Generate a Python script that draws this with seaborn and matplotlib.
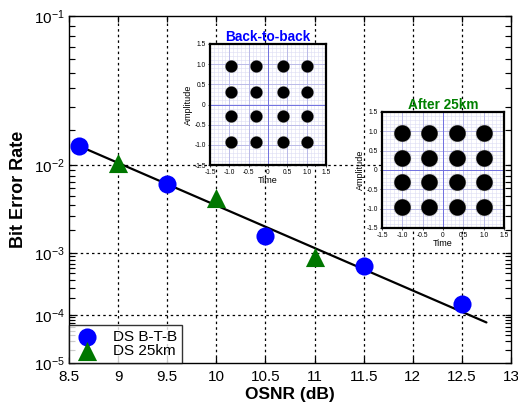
import numpy as np
import pandas as pd
import matplotlib
matplotlib.use("Agg")
import matplotlib.pyplot as plt
import seaborn as sns
from matplotlib.ticker import FixedLocator, FuncFormatter, NullFormatter
from matplotlib.transforms import blended_transform_factory

# ---------------- data ----------------
btb_osnr = [8.6, 9.5, 10.5, 11.5, 12.5]
btb_ber = [1.5e-2, 6.6e-3, 1.67e-3, 6.4e-4, 1.6e-4]
km25_osnr = [9.0, 10.0, 11.0]
km25_ber = [1.05e-2, 4.7e-3, 8.7e-4]
fit_osnr = [8.65, 12.75]
fit_ber = [1.43e-2, 7.2e-5]

x_ticks = [8.5, 9, 9.5, 10, 10.5, 11, 11.5, 12, 12.5, 13]
y_ticks = [1e-5, 1e-4, 1e-3, 1e-2, 1e-1]

# constellation cluster centres (I / Q levels)
b2b_levels_i = [-0.95, -0.3, 0.38, 1.0]
b2b_levels_q = [0.95, 0.32, -0.28, -0.92]
k25_levels_i = [-1.0, -0.35, 0.35, 1.0]
k25_levels_q = [0.95, 0.3, -0.3, -0.95]
inset_ticks = [-1.5, -1.0, -0.5, 0, 0.5, 1.0, 1.5]
inset_tick_labels = ["-1.5", "-1.0", "-0.5", "0", "0.5", "1.0", "1.5"]

# ---------------- style ----------------
sns.set_style("ticks")
plt.rcParams["font.family"] = ["Liberation Sans", "DejaVu Sans"]
plt.rcParams["mathtext.fontset"] = "custom"
plt.rcParams["mathtext.rm"] = "Liberation Sans"
plt.rcParams["mathtext.it"] = "Liberation Sans:italic"
plt.rcParams["text.color"] = "black"
plt.rcParams["axes.labelcolor"] = "black"
plt.rcParams["xtick.color"] = "black"
plt.rcParams["ytick.color"] = "black"

fig = plt.figure(figsize=(5.18, 4.08), dpi=100)
ax = fig.add_axes([69/518, 1-363/408, 442/518, 347/408])


def fwd(x):
    x = np.clip(np.asarray(x, dtype=float), 1e-300, 0.9999999)
    return -np.log10(-np.log10(x))


def inv(y):
    return 10 ** (-10 ** (-np.asarray(y, dtype=float)))


ax.set_yscale("function", functions=(fwd, inv))

df_btb = pd.DataFrame({"OSNR": btb_osnr, "BER": btb_ber})
df_25 = pd.DataFrame({"OSNR": km25_osnr, "BER": km25_ber})

# grid
for xv in x_ticks[1:-1]:
    ax.axvline(xv, color="black", lw=0.9, ls=(0, (2, 2.5)), zorder=0)
for yv in y_ticks[1:-1]:
    ax.axhline(yv, color="black", lw=0.9, ls=(0, (2, 2.5)), zorder=0)

# fit line (straight in this scale -> draw densely)
xs = np.linspace(fit_osnr[0], fit_osnr[1], 50)
ys = inv(np.interp(xs, fit_osnr, fwd(fit_ber)))
sns.lineplot(x=xs, y=ys, ax=ax, color="black", lw=1.6, zorder=2)

sns.scatterplot(data=df_btb, x="OSNR", y="BER", ax=ax, marker="o", s=170,
                color="#0000ff", edgecolor="#0000ff", linewidth=0, zorder=3,
                label="DS B-T-B")
sns.scatterplot(data=df_25, x="OSNR", y="BER", ax=ax, marker="^", s=190,
                color="#007700", edgecolor="#007700", linewidth=0, zorder=3,
                label="DS 25km")

ax.set_xlim(8.5, 13)
ax.set_ylim(1e-5, 1e-1)
ax.xaxis.set_major_locator(FixedLocator(x_ticks))
ax.xaxis.set_major_formatter(FuncFormatter(lambda v, p: f"{v:g}"))
ax.yaxis.set_major_locator(FixedLocator(y_ticks))
ax.yaxis.set_major_formatter(
    FuncFormatter(lambda v, p: r"$10^{%d}$" % int(round(np.log10(v)))))
minors = [k * 10.0 ** n for n in range(-5, -1) for k in range(2, 10)]
ax.yaxis.remove_overlapping_locs = False
ax.yaxis.set_minor_locator(FixedLocator(minors))
ax.yaxis.set_minor_formatter(NullFormatter())
ax.tick_params(axis="both", which="major", direction="in", length=4.5,
               width=0.9, labelsize=11, top=True, right=True, pad=3)
ax.tick_params(axis="x", which="major", pad=5)
ax.yaxis.set_tick_params(which="minor", direction="in", length=4,
                         width=0.8, left=True, right=True, color="black")
# explicit short minor tick marks along both vertical spines
ytrans = blended_transform_factory(ax.transAxes, ax.transData)
for m in minors:
    ax.plot([0, 0.009], [m, m], transform=ytrans, color="black", lw=0.8,
            solid_capstyle="butt", zorder=4)
    ax.plot([0.991, 1], [m, m], transform=ytrans, color="black", lw=0.8,
            solid_capstyle="butt", zorder=4)
for sp in ax.spines.values():
    sp.set_linewidth(1.0)
    sp.set_color("black")

ax.set_xlabel("OSNR (dB)", fontsize=12.5, fontweight="bold", labelpad=2)
ax.set_ylabel("Bit Error Rate", fontsize=13, fontweight="bold", labelpad=5)

leg = ax.legend(loc="lower left", frameon=True, fancybox=False,
                borderaxespad=0.0, fontsize=11, handletextpad=0.9,
                borderpad=0.3, labelspacing=0.05, handlelength=1.7,
                markerscale=1.0)
leg.get_frame().set_edgecolor("black")
leg.get_frame().set_linewidth(1.0)
leg.set_zorder(5)


# ---------------- insets ----------------
def make_inset(rect, levels_i, levels_q, title, tcolor, msize):
    ia = fig.add_axes(rect)
    ia.set_facecolor("white")
    gi, gq = np.meshgrid(levels_i, levels_q)
    dfc = pd.DataFrame({"I": gi.ravel(), "Q": gq.ravel()})
    for v in np.arange(-1.5, 1.51, 0.1):
        ia.axvline(v, color="#dcdcf4", lw=0.4, zorder=0)
        ia.axhline(v, color="#dcdcf4", lw=0.4, zorder=0)
    for v in [-1.0, -0.5, 0.5, 1.0]:
        ia.axvline(v, color="#b4b4e6", lw=0.6, zorder=0)
        ia.axhline(v, color="#b4b4e6", lw=0.6, zorder=0)
    ia.axvline(0, color="#7070e0", lw=0.7, zorder=0)
    ia.axhline(0, color="#7070e0", lw=0.7, zorder=0)
    sns.scatterplot(data=dfc, x="I", y="Q", ax=ia, s=msize * 1.3,
                    marker="8", color="#333333", alpha=0.25, linewidth=0,
                    zorder=2, legend=False)
    sns.scatterplot(data=dfc, x="I", y="Q", ax=ia, s=msize,
                    color="black", linewidth=0, zorder=3, legend=False)
    ia.set_xlim(-1.5, 1.5)
    ia.set_ylim(-1.5, 1.5)
    ia.set_xticks(inset_ticks)
    ia.set_xticklabels(inset_tick_labels)
    ia.set_yticks(inset_ticks)
    ia.set_yticklabels(inset_tick_labels)
    ia.minorticks_off()
    ia.tick_params(labelsize=4.8, length=1.5, width=0.5, pad=1.5,
                   direction="out")
    ia.set_xlabel("Time", fontsize=6.5, labelpad=0)
    ia.set_ylabel("Amplitude", fontsize=6.5, labelpad=1)
    ia.set_title(title, color=tcolor, fontsize=9.8, fontweight="bold", pad=2)
    for sp in ia.spines.values():
        sp.set_linewidth(1.6)
        sp.set_color("black")
    return ia


make_inset([210/518, 1-165/408, 116/518, 121/408], b2b_levels_i,
           b2b_levels_q, "Back-to-back", "#0000ff", 75)
make_inset([382/518, 1-228/408, 122/518, 116/408], k25_levels_i,
           k25_levels_q, "After 25km", "#008000", 140)

fig.savefig("out.png", dpi=100)
